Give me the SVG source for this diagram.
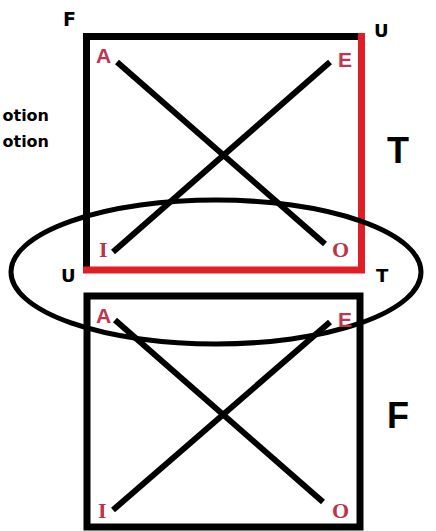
<svg xmlns="http://www.w3.org/2000/svg" width="436" height="531" viewBox="0 0 436 531">
<style>
.sq{fill:none;stroke:#000;stroke-width:7}
.red{fill:none;stroke:#e01e26;stroke-width:7;stroke-linecap:square}
.ln{stroke:#000;stroke-width:6}
.ls{font-family:"Liberation Sans",Arial,sans-serif;font-weight:bold;font-size:21px;fill:#c2344e}
.lt{font-family:"Liberation Serif","Times New Roman",serif;font-weight:bold;font-size:22px;fill:#b8344a}
.lb{font-family:"Liberation Sans",Arial,sans-serif;font-weight:bold;fill:#000}
.lv{font-family:"DejaVu Sans",Verdana,sans-serif;font-weight:bold;fill:#000}
</style>
<rect width="436" height="531" fill="#fff"/>
<g id="top-square">
<path class="sq" d="M86.5,270 V36.5 H362"/>
<path class="red" d="M361.5,36.5 V270 H86.5"/>
</g>
<g id="bottom-square">
<rect class="sq" x="87" y="296" width="273" height="231"/>
</g>
<g id="ellipse">
<ellipse cx="216" cy="272" rx="205" ry="72" fill="none" stroke="#000" stroke-width="5"/>
</g>
<g id="connectors">
<line class="ln" x1="117" y1="62" x2="325" y2="244"/>
<line class="ln" x1="330" y1="62" x2="113" y2="252"/>
<line class="ln" x1="115" y1="320" x2="323" y2="502"/>
<line class="ln" x1="330" y1="322" x2="113" y2="510"/>
</g>
<g id="top-letters">
<text class="ls" x="96" y="63">A</text>
<text class="ls" x="338" y="67">E</text>
<text class="lt" x="99" y="257">I</text>
<text class="lt" x="332" y="257">O</text>
</g>
<g id="bottom-letters">
<text class="ls" x="96" y="323">A</text>
<text class="ls" x="338" y="327">E</text>
<text class="lt" x="98" y="518">I</text>
<text class="lt" x="332" y="518">O</text>
</g>
<g id="labels">
<text class="lv" x="63" y="26" font-size="19">F</text>
<text class="lv" x="374" y="37" font-size="18">U</text>
<text class="lv" x="61" y="282" font-size="18">U</text>
<text class="lv" x="376" y="282" font-size="18">T</text>
<text class="lb" x="387" y="163" font-size="36">T</text>
<text class="lb" x="387" y="428" font-size="36">F</text>
<text class="lv" x="49" y="121" font-size="16" text-anchor="end">otion</text>
<text class="lv" x="49" y="147" font-size="16" text-anchor="end">otion</text>
</g>
</svg>
